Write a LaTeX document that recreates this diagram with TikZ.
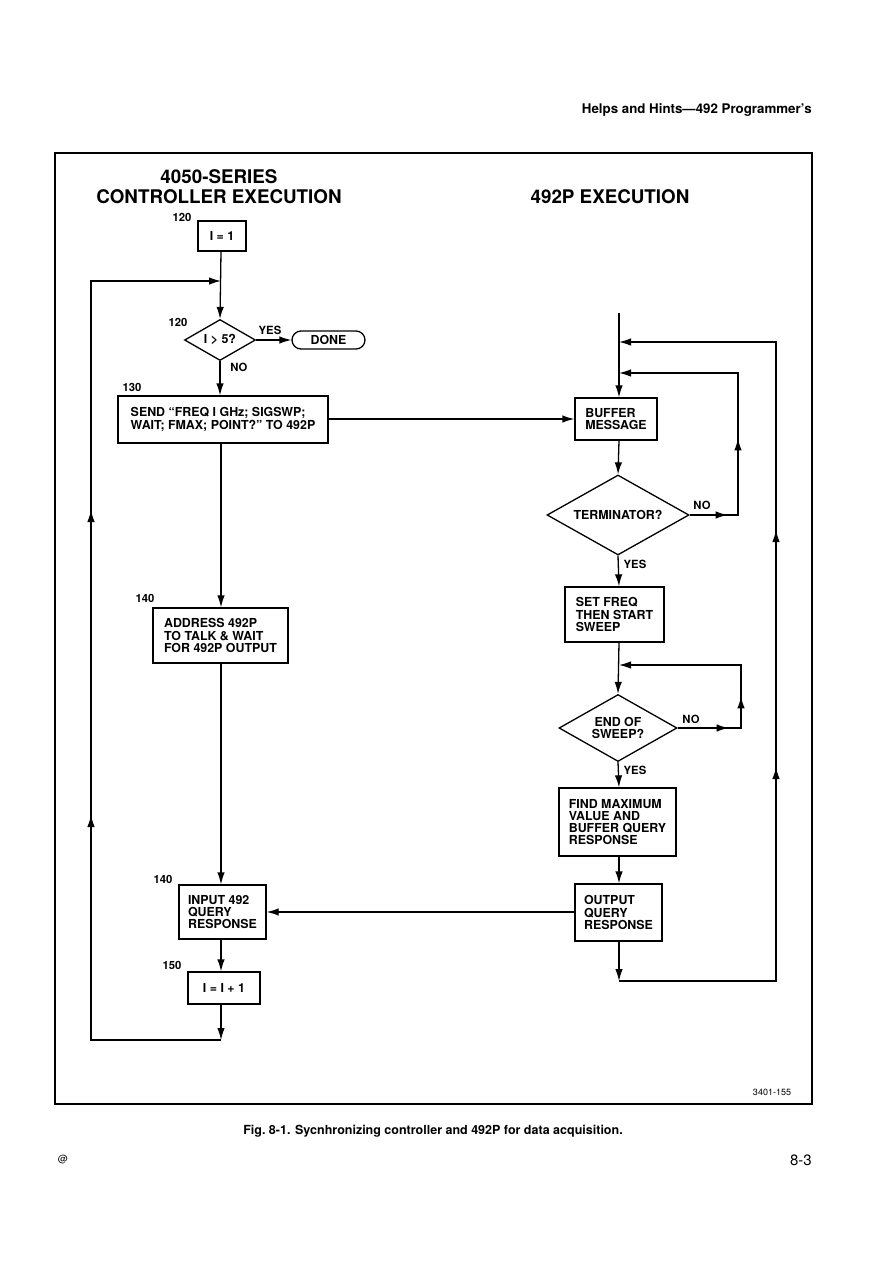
\documentclass[tikz,border=0pt]{standalone}
\usepackage{fontspec}
\setmainfont{TeX Gyre Heros}
\usetikzlibrary{arrows.meta,shapes.geometric,shapes.misc,decorations.markings}
\newcommand\bxf{\fontsize{12.4}{12.2}\selectfont\bfseries}
\newcommand\lblf{\fontsize{11.3}{12}\selectfont\bfseries}
\newcommand\ttlf{\fontsize{18.8}{20}\selectfont\bfseries}
\tikzset{
  tip/.tip={Latex[length=12pt,width=7.5pt]},
  conn/.style={line width=1.3pt},
  arr/.style={conn,-tip},
  box/.style={draw, line width=1.3pt, inner xsep=8pt, inner ysep=0pt, align=left, font=\bxf},
  dia/.style={draw, diamond, line width=1.3pt, inner sep=0pt, aspect=1.7, font=\bxf, align=center},
  lbl/.style={font=\lblf, inner sep=0pt},
}
\begin{document}
\begin{tikzpicture}[x=1pt,y=-1pt]
\useasboundingbox (0,0) rectangle (893,1263);
% page texts
\node[anchor=east, font=\fontsize{13.3}{15}\selectfont\bfseries, inner sep=0pt] (hdr) at (812,110) {Helps and Hints—492 Programmer's};
\node[font=\fontsize{12.5}{14}\selectfont\bfseries, inner sep=0pt] (cap) at (433,1131) {Fig.\ 8-1. Sycnhronizing controller and 492P for data acquisition.};
\node[anchor=east, font=\fontsize{15}{16}\selectfont, inner sep=0pt] (pg) at (812,1160) {8-3};
\node[font=\fontsize{10}{12}\selectfont, inner sep=0pt] (at) at (63,1159) {@};
% frame
\node[draw, line width=2.2pt, minimum width=757, minimum height=951, inner sep=0pt] (frame) at (433.5,628.5) {};
\node[font=\fontsize{9}{10}\selectfont, inner sep=0pt] (fid) at (772,1092) {3401-155};
% titles
\node[font=\ttlf, inner sep=0pt] (t1) at (219,177) {4050-SERIES};
\node[font=\ttlf, inner sep=0pt] (t2) at (219,197) {CONTROLLER EXECUTION};
\node[font=\ttlf, inner sep=0pt] (t3) at (610,197) {492P EXECUTION};

% ---- left column
\coordinate (ls) at (221,281);
\node[box, align=center, minimum width=48, minimum height=30] (i1) at (222,236) {I = 1};
\node[lbl] (l120a) at (182,217) {120};
\node[dia, minimum width=71, minimum height=41] (d1) at (220,340) {I > 5?};
\node[lbl] (l120b) at (178,322) {120};
\node[draw, rounded rectangle, line width=1.3pt, minimum width=73, minimum height=18, inner sep=0pt, font=\bxf] (done) at (328.5,340) {DONE};
\node[lbl] (yes1) at (270,330) {YES};
\node[lbl] (no1) at (239,367) {NO};
\node[lbl] (l130) at (132,387) {130};
\node[box, minimum width=210, minimum height=47] (send) at (223,419.5) {SEND “FREQ I GHz; SIGSWP;\\WAIT; FMAX; POINT?” TO 492P};
\node[lbl] (l140a) at (145,598) {140};
\node[box, minimum width=135, minimum height=55] (addr) at (220.5,635.5) {ADDRESS 492P\\TO TALK \& WAIT\\FOR 492P OUTPUT};
\node[lbl] (l140b) at (163,879) {140};
\node[box, minimum width=87, minimum height=54] (inp) at (222.5,912) {INPUT 492\\QUERY\\RESPONSE};
\node[lbl] (l150) at (172,965) {150};
\node[box, align=center, minimum width=72, minimum height=32] (inc) at (224,988) {I = I + 1};

\coordinate (lb) at (221,1040);
\coordinate (lbl) at (91,1040);
\coordinate (ltl) at (91,281);

\draw[arr] (i1.south -| ls) -- (d1.north);
\draw[arr] (d1.east) -- (done.west);
\draw[arr] (d1.south) -- (d1.south |- send.north);
\draw[arr] (send.south -| ls) -- (addr.north -| ls);
\draw[arr] (addr.south -| ls) -- (inp.north -| ls);
\draw[arr] (inp.south -| ls) -- (inc.north -| ls);
\draw[arr] (inc.south -| ls) -- (lb);
\draw[arr, postaction={decorate}, decoration={markings,
   mark=at position 355pt with {\arrow{tip}},
   mark=at position 660pt with {\arrow{tip}}}]
   (lb) -- (lbl) -- (ltl) -- (ls);

% ---- right column
\coordinate (rs) at (619,313);
\node[box, minimum width=82, minimum height=42] (buf) at (616,419) {BUFFER\\MESSAGE};
\node[dia, minimum width=142, minimum height=80] (term) at (618,515) {TERMINATOR?};
\node[lbl] (no2) at (702,505) {NO};
\node[lbl] (yes2) at (635,564) {YES};
\node[box, minimum width=99, minimum height=55] (setf) at (614.5,614.5) {SET FREQ\\THEN START\\SWEEP};
\node[dia, minimum width=118, minimum height=67] (eos) at (618,728) {END OF\\SWEEP?};
\node[lbl] (no3) at (691,719) {NO};
\node[lbl] (yes3) at (635,770) {YES};
\node[box, minimum width=117, minimum height=68] (fmax) at (617.5,822) {FIND MAXIMUM\\VALUE AND\\BUFFER QUERY\\RESPONSE};
\node[box, minimum width=87, minimum height=57] (out) at (618.5,912.5) {OUTPUT\\QUERY\\RESPONSE};

\coordinate (rj) at (619,342);
\coordinate (tj) at (619,373);
\coordinate (t1c) at (738,515);
\coordinate (t2c) at (738,373);
\coordinate (ej) at (619,665);
\coordinate (e1c) at (741,728);
\coordinate (e2c) at (741,665);
\coordinate (rb) at (619,981);
\coordinate (rbr) at (776,981);
\coordinate (rtr) at (776,342);

\draw[arr] (rs) -- (buf.north -| rs);
\draw[arr] (send.east |- buf.west) -- (buf.west);
\draw[arr] (buf.south -| rs) -- (term.north);
\draw[arr] (term.south) -- (setf.north -| rs);
\draw[arr] (setf.south -| rs) -- (eos.north);
\draw[arr] (eos.south) -- (fmax.north -| rs);
\draw[arr] (fmax.south -| rs) -- (out.north -| rs);
\draw[arr] (out.west |- inp.east) -- (inp.east);
\draw[arr] (out.south -| rs) -- (rb);
\draw[arr, postaction={decorate}, decoration={markings,
   mark=at position 371pt with {\arrow{tip}},
   mark=at position 608pt with {\arrow{tip}}}]
   (rb) -- (rbr) -- (rtr) -- (rj);
\draw[arr, postaction={decorate}, decoration={markings,
   mark=at position 38pt with {\arrow{tip}},
   mark=at position 125pt with {\arrow{tip}}}]
   (term.east) -- (t1c) -- (t2c) -- (tj);
\draw[arr, postaction={decorate}, decoration={markings,
   mark=at position 51pt with {\arrow{tip}},
   mark=at position 95pt with {\arrow{tip}}}]
   (eos.east) -- (e1c) -- (e2c) -- (ej);
\end{tikzpicture}
\end{document}
